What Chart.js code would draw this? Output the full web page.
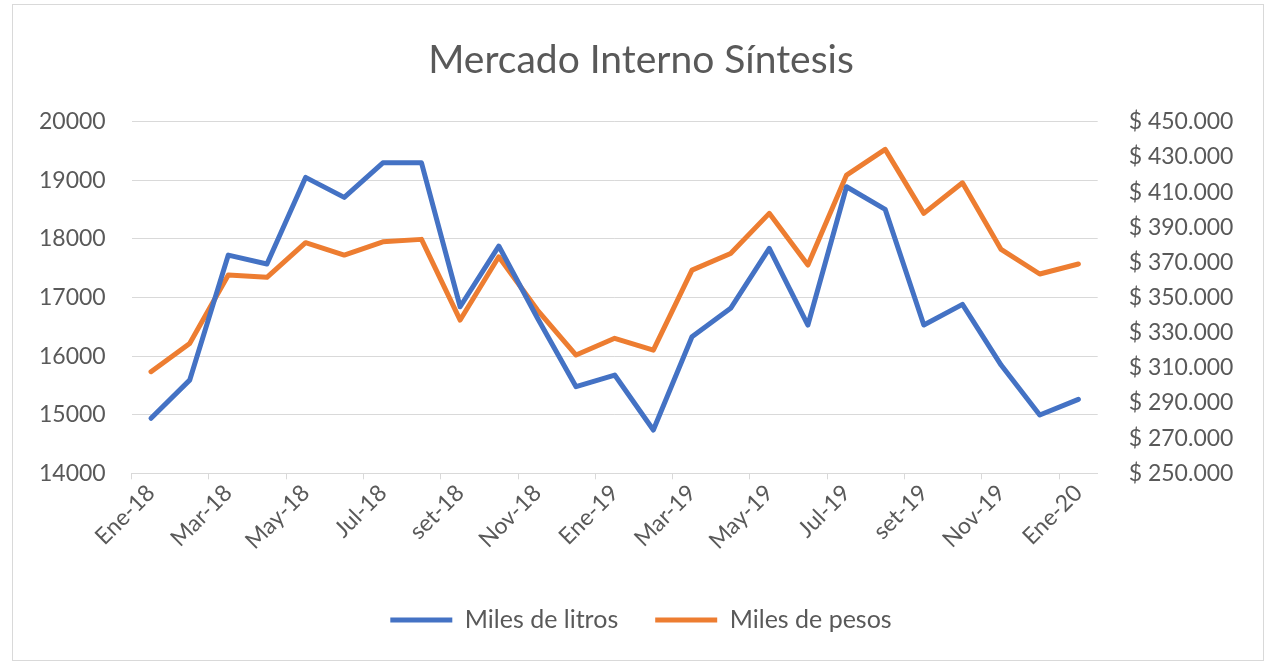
<!DOCTYPE html>
<html><head><meta charset="utf-8">
<script src="https://cdn.jsdelivr.net/npm/chart.js@4.4.1/dist/chart.umd.min.js"></script>
<style>
html,body{margin:0;padding:0;background:#fff;overflow:hidden;}
#wrap{position:relative;width:1276px;height:665px;}
#frame{position:absolute;left:12px;top:4px;width:1250px;height:655px;border:1px solid #d9d9d9;pointer-events:none;}
canvas{position:absolute;left:0;top:0;}
</style></head><body>
<div id="wrap"><canvas id="c" width="1276" height="665"></canvas><div id="frame"></div></div>
<script>
const months = ['Ene-18','Feb-18','Mar-18','Abr-18','May-18','Jun-18','Jul-18','Ago-18','set-18','Oct-18','Nov-18','Dic-18',
  'Ene-19','Feb-19','Mar-19','Abr-19','May-19','Jun-19','Jul-19','Ago-19','set-19','Oct-19','Nov-19','Dic-19','Ene-20'];
const litros = [14940,15590,17725,17572,19051,18710,19300,19300,16843,17879,16650,15478,
  15677,14739,16331,16816,17840,16531,18891,18505,16531,16884,15848,14995,15263];
const pesos = [307800,323900,362800,361500,381200,374200,381700,383100,337200,373200,342900,317300,
  326800,320100,365600,375100,397900,368500,419700,434300,397900,415300,377400,363400,369100];
const seriesNames = ['Miles de litros','Miles de pesos'];
const titleText = 'Mercado Interno Síntesis';
const leftMin = 14000, leftMax = 20000, leftStep = 1000;
const rightMin = 250000, rightMax = 450000, rightStep = 20000;

const TXT = '#595959';
const GRID = '#d9d9d9';
const FONT = 'Lato';
const fmtPesos = v => '$ ' + String(v).replace(/\B(?=(\d{3})+(?!\d))/g, '.');

new Chart(document.getElementById('c'), {
  type: 'line',
  data: {
    labels: months,
    datasets: [
      { label: seriesNames[0], data: litros, yAxisID: 'y', borderColor: '#4472C4', backgroundColor: '#4472C4',
        borderWidth: 5, pointRadius: 0, tension: 0, borderJoinStyle: 'round', borderCapStyle: 'round' },
      { label: seriesNames[1], data: pesos, yAxisID: 'y2', borderColor: '#ED7D31', backgroundColor: '#ED7D31',
        borderWidth: 5, pointRadius: 0, tension: 0, borderJoinStyle: 'round', borderCapStyle: 'round' }
    ]
  },
  options: {
    responsive: false,
    animation: false,
    devicePixelRatio: 1,
    layout: { padding: { left: 6, right: 0, top: 0, bottom: 22.5 } },
    plugins: {
      tooltip: { enabled: false },
      title: {
        display: true, text: titleText, color: TXT,
        font: { family: FONT, size: 39, weight: 'normal', lineHeight: 1.2 },
        padding: { top: 37, bottom: 38 }
      },
      legend: {
        position: 'bottom',
        labels: {
          color: TXT, font: { family: FONT, size: 25 }, boxWidth: 62, boxHeight: 5, padding: 37,
          generateLabels: (chart) => chart.data.datasets.map((d, i) => ({
            text: d.label, fillStyle: d.borderColor, strokeStyle: d.borderColor, lineWidth: 0,
            hidden: false, datasetIndex: i, fontColor: TXT
          }))
        }
      }
    },
    scales: {
      x: {
        type: 'category', offset: true,
        grid: { offset: true, drawOnChartArea: false, drawTicks: true, tickLength: 6,
          tickColor: ctx => (ctx.index % 2 === 0 ? GRID : 'rgba(0,0,0,0)'), color: GRID },
        border: { display: true, color: GRID, width: 1 },
        ticks: { autoSkip: false, maxRotation: 45, minRotation: 45, color: TXT, padding: 0,
          font: { family: FONT, size: 23 },
          callback: (v, i) => (i % 2 === 0 ? months[i] : '') },
        afterFit: s => { s.height = 97.2; }
      },
      y: {
        position: 'left', min: leftMin, max: leftMax,
        ticks: { stepSize: leftStep, color: TXT, padding: 26, font: { family: FONT, size: 23 },
          callback: v => String(v) },
        grid: { color: GRID, lineWidth: 1, drawTicks: false },
        border: { display: false },
        afterFit: s => { s.width = 125.7; }
      },
      y2: {
        position: 'right', min: rightMin, max: rightMax,
        ticks: { stepSize: rightStep, color: TXT, padding: 31, font: { family: FONT, size: 23 },
          callback: v => fmtPesos(v) },
        grid: { display: false, drawTicks: false },
        border: { display: false },
        afterFit: s => { s.width = 178.3; }
      }
    }
  }
});
</script>
</body></html>
